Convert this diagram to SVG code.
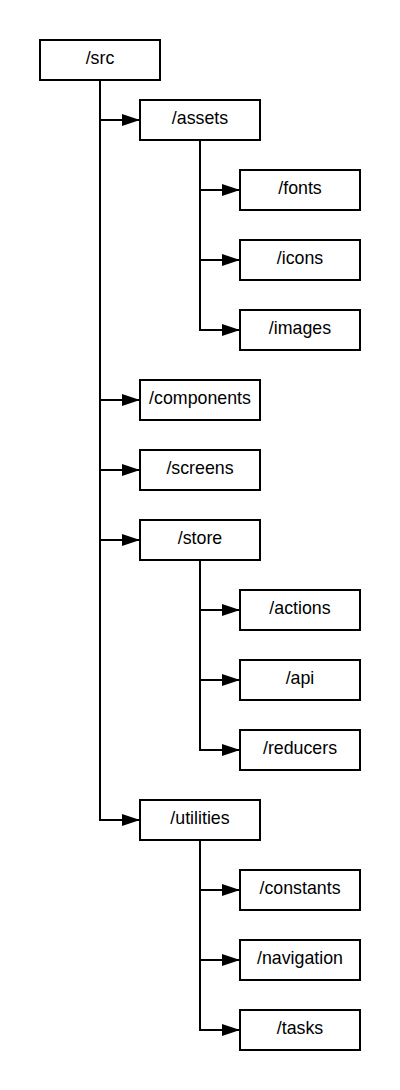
<svg xmlns="http://www.w3.org/2000/svg" width="400" height="1090" viewBox="0 0 400 1090">
<style>
rect.box{fill:#ffffff;stroke:#000000;stroke-width:2}
text{font-family:"Liberation Sans",Arial,sans-serif;font-size:17.8px;fill:#000000;text-anchor:middle}
.conn path{fill:none;stroke:#000000;stroke-width:2;marker-end:url(#arr)}
</style>
<defs>
<marker id="arr" markerUnits="userSpaceOnUse" markerWidth="18" markerHeight="12" refX="18" refY="6" orient="auto">
<path d="M0,0 L18,6 L0,12 z" fill="#000000"/>
</marker>
</defs>
<rect width="400" height="1090" fill="#ffffff"/>
<g class="conn" id="connectors">
<path d="M100,80 V120 H140"/>
<path d="M100,80 V400 H140"/>
<path d="M100,80 V470 H140"/>
<path d="M100,80 V540 H140"/>
<path d="M100,80 V820 H140"/>
<path d="M200,140 V190 H240"/>
<path d="M200,140 V260 H240"/>
<path d="M200,140 V330 H240"/>
<path d="M200,560 V610 H240"/>
<path d="M200,560 V680 H240"/>
<path d="M200,560 V750 H240"/>
<path d="M200,840 V890 H240"/>
<path d="M200,840 V960 H240"/>
<path d="M200,840 V1030 H240"/>
</g>
<g id="src"><rect class="box" x="40" y="40" width="120" height="40"/><text x="100" y="64">/src</text></g>
<g id="assets"><rect class="box" x="140" y="100" width="120" height="40"/><text x="200" y="124">/assets</text></g>
<g id="fonts"><rect class="box" x="240" y="170" width="120" height="40"/><text x="300" y="194">/fonts</text></g>
<g id="icons"><rect class="box" x="240" y="240" width="120" height="40"/><text x="300" y="264">/icons</text></g>
<g id="images"><rect class="box" x="240" y="310" width="120" height="40"/><text x="300" y="334">/images</text></g>
<g id="components"><rect class="box" x="140" y="380" width="120" height="40"/><text x="200" y="404">/components</text></g>
<g id="screens"><rect class="box" x="140" y="450" width="120" height="40"/><text x="200" y="474">/screens</text></g>
<g id="store"><rect class="box" x="140" y="520" width="120" height="40"/><text x="200" y="544">/store</text></g>
<g id="actions"><rect class="box" x="240" y="590" width="120" height="40"/><text x="300" y="614">/actions</text></g>
<g id="api"><rect class="box" x="240" y="660" width="120" height="40"/><text x="300" y="684">/api</text></g>
<g id="reducers"><rect class="box" x="240" y="730" width="120" height="40"/><text x="300" y="754">/reducers</text></g>
<g id="utilities"><rect class="box" x="140" y="800" width="120" height="40"/><text x="200" y="824">/utilities</text></g>
<g id="constants"><rect class="box" x="240" y="870" width="120" height="40"/><text x="300" y="894">/constants</text></g>
<g id="navigation"><rect class="box" x="240" y="940" width="120" height="40"/><text x="300" y="964">/navigation</text></g>
<g id="tasks"><rect class="box" x="240" y="1010" width="120" height="40"/><text x="300" y="1034">/tasks</text></g>
</svg>
